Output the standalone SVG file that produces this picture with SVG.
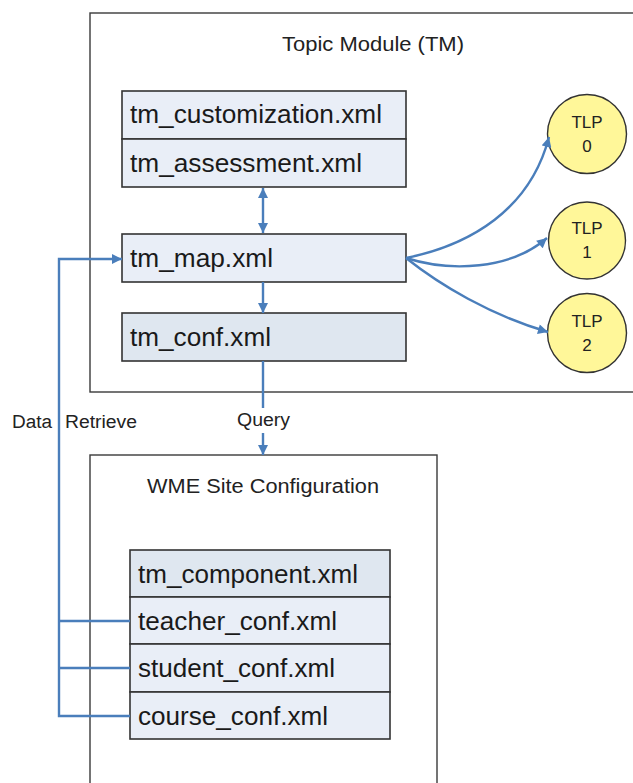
<svg xmlns="http://www.w3.org/2000/svg" width="633" height="783" viewBox="0 0 633 783">
<style>
.frame{fill:#ffffff;stroke:#3a3a3a;stroke-width:1.4}
.box{fill:#e9eef7;stroke:#333333;stroke-width:1.6}
.boxd{fill:#dfe7f0;stroke:#333333;stroke-width:1.6}
.circ{fill:#fff799;stroke:#333333;stroke-width:1.4}
.t{font-family:"Liberation Sans",Arial,sans-serif;fill:#1a1a1a}
.bt{font-size:25px}
.title{font-size:20px;text-anchor:middle;fill:#222}
.lbl{font-size:18px;fill:#222}
.tlp{font-size:17px;text-anchor:middle;fill:#222}
.con{fill:none;stroke:#4a7ebb;stroke-width:2.4}
</style>
<defs>
<marker id="ah" viewBox="0 0 10 10" refX="10" refY="5" markerWidth="11" markerHeight="10" markerUnits="userSpaceOnUse" orient="auto-start-reverse">
<path d="M0,0 L10,5 L0,10 z" fill="#4a7ebb"/>
</marker>
</defs>
<g id="topic-module">
<rect class="frame" x="90" y="13" width="580" height="379"/>
<text class="t title" x="373" y="51" textLength="182" lengthAdjust="spacingAndGlyphs">Topic Module (TM)</text>
</g>
<g id="wme-site">
<rect class="frame" x="90" y="455" width="347" height="360"/>
<text class="t title" x="263" y="493" textLength="232" lengthAdjust="spacingAndGlyphs">WME Site Configuration</text>
</g>
<g id="tm_customization">
<rect class="box" x="122" y="91" width="284" height="48"/>
<text class="t bt" x="130" y="123" textLength="252" lengthAdjust="spacingAndGlyphs">tm_customization.xml</text>
</g>
<g id="tm_assessment">
<rect class="box" x="122" y="139" width="284" height="48"/>
<text class="t bt" x="130" y="172" textLength="232" lengthAdjust="spacingAndGlyphs">tm_assessment.xml</text>
</g>
<g id="tm_map">
<rect class="box" x="122" y="234" width="284" height="48"/>
<text class="t bt" x="130" y="267" textLength="143" lengthAdjust="spacingAndGlyphs">tm_map.xml</text>
</g>
<g id="tm_conf">
<rect class="boxd" x="122" y="313" width="284" height="48"/>
<text class="t bt" x="130" y="346" textLength="141" lengthAdjust="spacingAndGlyphs">tm_conf.xml</text>
</g>
<g id="tm_component">
<rect class="boxd" x="130" y="550" width="260" height="47"/>
<text class="t bt" x="138" y="583" textLength="220" lengthAdjust="spacingAndGlyphs">tm_component.xml</text>
</g>
<g id="teacher_conf">
<rect class="box" x="130" y="597" width="260" height="47"/>
<text class="t bt" x="138" y="630" textLength="199" lengthAdjust="spacingAndGlyphs">teacher_conf.xml</text>
</g>
<g id="student_conf">
<rect class="box" x="130" y="644" width="260" height="48"/>
<text class="t bt" x="138" y="677" textLength="197" lengthAdjust="spacingAndGlyphs">student_conf.xml</text>
</g>
<g id="course_conf">
<rect class="box" x="130" y="692" width="260" height="47"/>
<text class="t bt" x="138" y="725" textLength="190" lengthAdjust="spacingAndGlyphs">course_conf.xml</text>
</g>
<g id="tlp0">
<circle class="circ" cx="587" cy="134" r="39.5"/>
<text class="t tlp" x="587" y="128">TLP</text>
<text class="t tlp" x="587" y="152">0</text>
</g>
<g id="tlp1">
<circle class="circ" cx="587" cy="240.5" r="38.5"/>
<text class="t tlp" x="587" y="234">TLP</text>
<text class="t tlp" x="587" y="258">1</text>
</g>
<g id="tlp2">
<circle class="circ" cx="587" cy="333" r="39.5"/>
<text class="t tlp" x="587" y="327">TLP</text>
<text class="t tlp" x="587" y="351">2</text>
</g>
<g id="connectors">
<path class="con" d="M263,188 L263,233" marker-start="url(#ah)" marker-end="url(#ah)"/>
<path class="con" d="M263,282 L263,313" marker-end="url(#ah)"/>
<path class="con" d="M263,361 L263,408"/>
<path class="con" d="M263,433 L263,455" marker-end="url(#ah)"/>
<path class="con" d="M406,258 C470,245 530,210 549,137" marker-end="url(#ah)"/>
<path class="con" d="M406,258 C450,272 510,270 547,238" marker-end="url(#ah)"/>
<path class="con" d="M406,258 C440,285 490,315 548,332" marker-end="url(#ah)"/>
<path class="con" d="M130,716 L59,716 L59,259 L122,259" marker-end="url(#ah)"/>
<path class="con" d="M130,621 L59,621"/>
<path class="con" d="M130,668 L59,668"/>
<text class="t lbl" y="428"><tspan x="12" textLength="40" lengthAdjust="spacingAndGlyphs">Data</tspan><tspan x="65" textLength="72" lengthAdjust="spacingAndGlyphs">Retrieve</tspan></text>
<text class="t lbl" x="237" y="426" textLength="53" lengthAdjust="spacingAndGlyphs">Query</text>
</g>
</svg>
